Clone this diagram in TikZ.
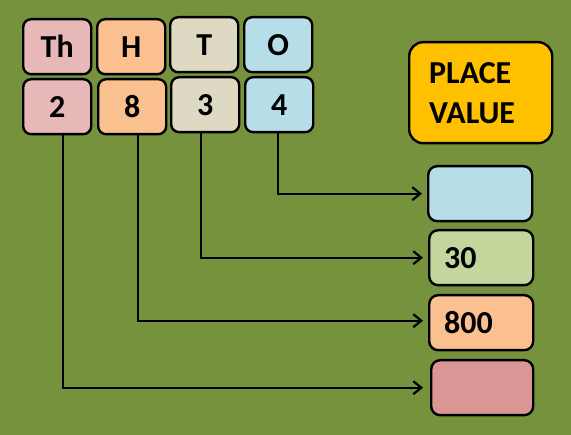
\documentclass[tikz,border=0pt]{standalone}
\usepackage{fontspec}
\setmainfont{Carlito}
\usetikzlibrary{arrows.meta}

\definecolor{bgolive}{HTML}{76923C}
\definecolor{thpink}{HTML}{E6B9B8}
\definecolor{hpeach}{HTML}{FAC090}
\definecolor{ttan}{HTML}{DDD9C3}
\definecolor{oblue}{HTML}{B7DEE8}
\definecolor{tgreen}{HTML}{C3D69B}
\definecolor{throse}{HTML}{D99694}
\definecolor{pvgold}{HTML}{FFC000}

\tikzset{
	digit/.style={draw, line width=2.4pt, rounded corners=8pt, anchor=north west,
		minimum width=68pt, minimum height=55pt, inner sep=0pt,
		font=\bfseries\fontsize{32}{32}\selectfont},
	valbox/.style={draw, line width=2.4pt, rounded corners=9pt, anchor=north west,
		minimum height=55pt, inner xsep=15pt, inner ysep=0pt, text width=74pt, align=left,
		font=\bfseries\fontsize{32}{32}\selectfont},
	link/.style={line width=2.2pt, -{Straight Barb[length=8pt,width=13pt,line width=2.2pt]}, shorten >=5pt}
}

\begin{document}
\begin{tikzpicture}[x=1pt,y=-1pt]
	\fill[bgolive] (0,0) rectangle (571,435);
	\useasboundingbox (0,0) rectangle (571,435);

	% place names
	\node[digit, fill=thpink] (th) at (22,18) {Th};
	\node[digit, fill=hpeach] (h) at (96,18) {H};
	\node[digit, fill=ttan] (t) at (169,16) {T};
	\node[digit, fill=oblue] (o) at (243,16) {O};

	% digits
	\node[digit, fill=thpink] (th2) at (22,78) {2};
	\node[digit, fill=hpeach] (h2) at (97,78) {8};
	\node[digit, fill=ttan] (t2) at (170,76) {3};
	\node[digit, fill=oblue] (o2) at (244,76) {4};

	\node[draw, line width=2.4pt, rounded corners=14pt, fill=pvgold, anchor=north west,
		minimum width=143pt, minimum height=101pt, inner xsep=20pt, text width=103pt, align=left,
		font=\bfseries\fontsize{32}{40}\selectfont] (pv) at (408,41) {PLACE\\VALUE};

	% place values
	\node[valbox, fill=oblue] (pvo) at (427,165) {};
	\node[valbox, fill=tgreen] (pvt) at (428,229) {30};
	\node[valbox, fill=hpeach] (pvh) at (428,294) {800};
	\node[valbox, fill=throse, minimum width=102pt, text width=72pt] (pvth) at (430,359) {};

	\draw[link] ([xshift=-1pt]o2.south) |- (pvo.west);
	\draw[link] ([xshift=-4pt]t2.south) |- (pvt.west);
	\draw[link] ([xshift=6pt]h2.south) |- ([yshift=2pt]pvh.west);
	\draw[link, shorten >=7pt] ([xshift=6pt]th2.south) |- (pvth.west);
\end{tikzpicture}
\end{document}
